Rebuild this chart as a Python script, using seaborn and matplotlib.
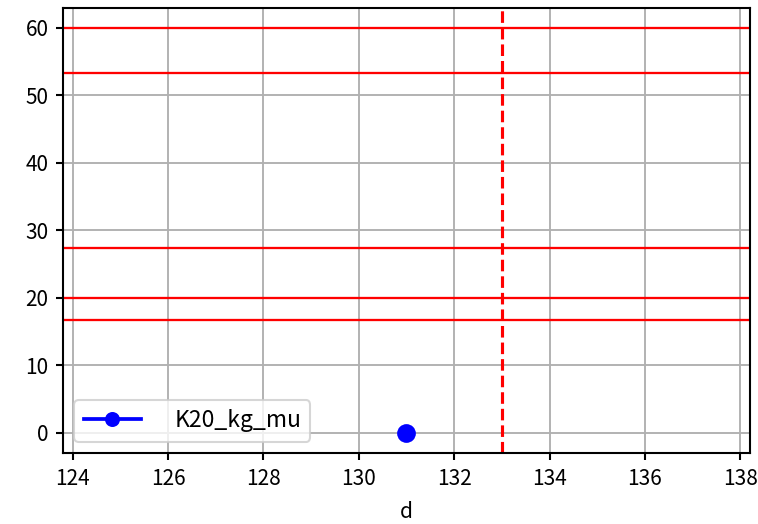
import matplotlib
matplotlib.use("Agg")
import matplotlib.pyplot as plt
import seaborn as sns
import pandas as pd

plt.rcParams['font.family'] = ['Noto Sans CJK JP', 'DejaVu Sans']

x_vals = [131]
y_vals = [0]
series_name = "K20_kg_mu"
hlines = [60, 53.33, 27.33, 20, 16.67]
vline = 133
x_ticks = [124, 126, 128, 130, 132, 134, 136, 138]
y_ticks = [0, 10, 20, 30, 40, 50, 60]

df = pd.DataFrame({"d": x_vals, "v": y_vals})

fig = plt.figure(figsize=(759/150, 524/150), dpi=150)
ax = fig.add_axes([0.083, 0.1355, 0.905, 0.85])

for h in hlines:
    ax.axhline(h, color='red', lw=1.1, zorder=2)
ax.axvline(vline, color='red', lw=1.5, ls='--', zorder=2)

sns.lineplot(data=df, x="d", y="v", marker='o', color='blue', markersize=9,
             markeredgewidth=0, linewidth=1.8, label=series_name, ax=ax, zorder=3)

ax.set_xlim(123.8, 138.2)
ax.set_ylim(-3, 63)
ax.set_xticks(x_ticks)
ax.set_yticks(y_ticks)
ax.grid(True, color='#b0b0b0', lw=0.9, zorder=0)
ax.set_axisbelow(True)
ax.set_xlabel("d", fontsize=10, labelpad=5.5)
ax.set_ylabel("")
ax.tick_params(labelsize=10, width=1.0)
for s in ax.spines.values():
    s.set_color('black')
    s.set_linewidth(1.0)
leg = ax.legend(loc='lower left', fontsize=11, handletextpad=1.45, handlelength=2.5,
                markerscale=0.8)
for ln in leg.get_lines():
    ln.set_linewidth(1.8)

fig.savefig("out.png", dpi=150)
